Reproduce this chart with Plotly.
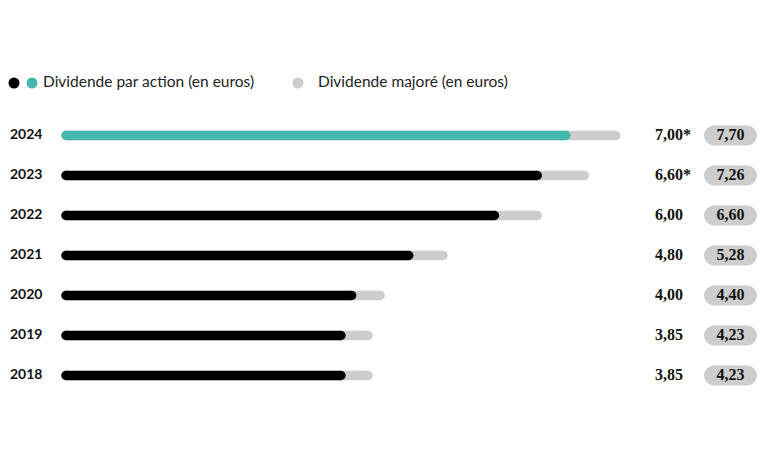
import plotly.graph_objects as go

years = ['2018', '2019', '2020', '2021', '2022', '2023', '2024']
dividende = [3.85, 3.85, 4.00, 4.80, 6.00, 6.60, 7.00]
majore = [4.23, 4.23, 4.40, 5.28, 6.60, 7.26, 7.70]
asterisque = ['', '', '', '', '', '*', '*']

BLACK = '#000000'
TEAL = '#45b8b0'
GREY = '#cdcdcd'

# page is 768x460, but the html body has an 8px margin, so the figure
# is 752x444 and its axes are mapped back to page pixels
PAGE_W, PAGE_H, BODY = 768, 460, 8
X0 = 66        # page pixel where value 0 sits
K = 71.4       # pixels per euro
ROW0 = 375.5   # page pixel row of 2018
ROWSTEP = 40


def px(p):
    return (p - X0) / K


def py(p):
    return (ROW0 - p) / ROWSTEP


rows = list(range(len(years)))


def segments(vals, idx):
    xs, ys = [], []
    for i in idx:
        xs += [0, vals[i], None]
        ys += [i, i, None]
    return xs, ys


fig = go.Figure()

# dividende majore (grey back bars)
gx, gy = segments(majore, rows)
fig.add_trace(go.Scatter(x=gx, y=gy, mode='lines+markers',
                         line=dict(color=GREY, width=9.5),
                         marker=dict(color=GREY, size=9.5, line=dict(width=0)),
                         hoverinfo='skip', showlegend=False))

# dividende par action
bx, by = segments(dividende, rows[:-1])
fig.add_trace(go.Scatter(x=bx, y=by, mode='lines+markers',
                         line=dict(color=BLACK, width=9.5),
                         marker=dict(color=BLACK, size=9.5, line=dict(width=0)),
                         hoverinfo='skip', showlegend=False))
tx, ty = segments(dividende, rows[-1:])
fig.add_trace(go.Scatter(x=tx, y=ty, mode='lines+markers',
                         line=dict(color=TEAL, width=9.5),
                         marker=dict(color=TEAL, size=9.5, line=dict(width=0)),
                         hoverinfo='skip', showlegend=False))

# year labels
fig.add_trace(go.Scatter(x=[px(10)] * len(years), y=rows, mode='text',
                         text=years, textposition='middle right',
                         textfont=dict(family='Lato', size=14, color='#111111', weight='bold'),
                         hoverinfo='skip', showlegend=False))

# value labels
val_text = [f'{v:.2f}'.replace('.', ',') + a for v, a in zip(dividende, asterisque)]
fig.add_trace(go.Scatter(x=[px(655)] * len(years), y=rows, mode='text',
                         text=val_text, textposition='middle right',
                         textfont=dict(family='Liberation Serif', size=16, color='#111111', weight='bold'),
                         hoverinfo='skip', showlegend=False))

# pills for majore values
pxs, pys = [], []
for i in rows:
    pxs += [px(714), px(747), None]
    pys += [i, i, None]
fig.add_trace(go.Scatter(x=pxs, y=pys, mode='lines+markers',
                         line=dict(color=GREY, width=20),
                         marker=dict(color=GREY, size=20, line=dict(width=0)),
                         hoverinfo='skip', showlegend=False))
maj_text = [f'{v:.2f}'.replace('.', ',') for v in majore]
fig.add_trace(go.Scatter(x=[px(730.5)] * len(years), y=rows, mode='text',
                         text=maj_text, textposition='middle center',
                         textfont=dict(family='Liberation Serif', size=16, color='#111111', weight='bold'),
                         hoverinfo='skip', showlegend=False))

# legend (drawn by hand)
ly = py(83)
fig.add_trace(go.Scatter(x=[px(14), px(32), px(298)], y=[ly] * 3, mode='markers',
                         marker=dict(color=[BLACK, TEAL, GREY], size=11, line=dict(width=0)),
                         hoverinfo='skip', showlegend=False))
fig.add_trace(go.Scatter(x=[px(43), px(318)], y=[ly, ly], mode='text',
                         text=['Dividende par action (en euros)', 'Dividende majoré (en euros)'],
                         textposition='middle right',
                         textfont=dict(family='Lato', size=15.5, color='#222222'),
                         hoverinfo='skip', showlegend=False))

fig.update_layout(
    width=PAGE_W - 2 * BODY, height=PAGE_H - 2 * BODY,
    margin=dict(l=0, r=0, t=0, b=0),
    paper_bgcolor='white', plot_bgcolor='white',
    xaxis=dict(range=[px(BODY), px(PAGE_W - BODY)], visible=False, fixedrange=True),
    yaxis=dict(range=[py(PAGE_H - BODY), py(BODY)], visible=False, fixedrange=True),
    showlegend=False,
)

fig.write_html('out.html')
